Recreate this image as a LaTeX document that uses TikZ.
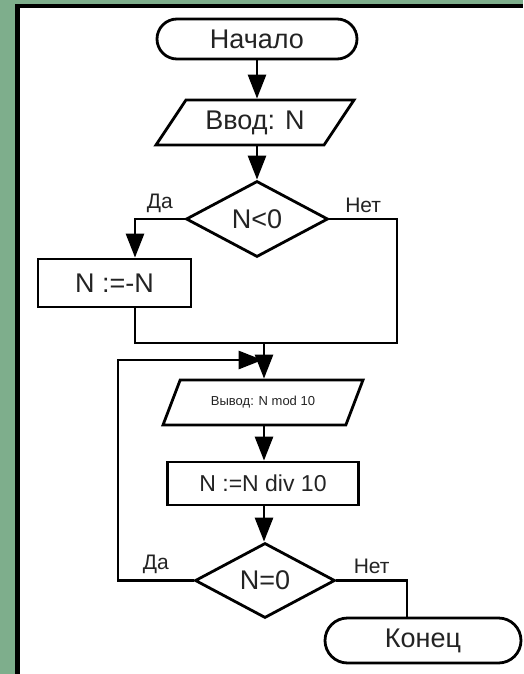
\documentclass[tikz,border=0pt]{standalone}
\usepackage{fontspec}
\setmainfont{Liberation Sans}
\usepackage{xcolor}
\usepackage{tikz}
\usetikzlibrary{shapes.geometric, arrows.meta, positioning, calc}
\definecolor{framegreen}{RGB}{126, 174, 140}
\definecolor{textgray}{RGB}{35, 35, 35}
\tikzset{
    base/.style = {draw=black, line width=2.8pt, fill=white, text=textgray, inner sep=2pt, font=\fontsize{27pt}{30pt}\selectfont},
    terminal/.style = {base, rectangle, rounded corners=20pt, minimum width=200pt, minimum height=40pt},
    box/.style = {base, rectangle, minimum width=153pt, minimum height=48pt},
    io/.style = {base, trapezium, trapezium left angle=43, trapezium right angle=137, trapezium stretches body, minimum width=198pt, minimum height=45pt},
    decision/.style = {base, diamond, minimum width=142pt, minimum height=76pt, inner sep=0pt},
    yesno/.style = {text=textgray, inner sep=2pt, font=\fontsize{21pt}{23pt}\selectfont},
    arrow/.style = {line width=2.8pt, -{Triangle[length=24pt, width=18pt]}},
    line/.style = {line width=2.8pt, -}
}

\begin{document}
\begin{tikzpicture}[x=1pt, y=-1pt]
% frame
\useasboundingbox (0,0) rectangle (523,674);
\fill [framegreen] (0,0) rectangle (523,674);
\fill [black] (15,4) rectangle (523,674);
\fill [white] (20,8) rectangle (523,674);

\node (start) [terminal] at (257,39) {Начало};
\node (input) [io] at (255,122.5) {Ввод: N};
\node (cond1) [decision] at (257,219) {N<0};
\node (neg) [box] at (114.5,283) {N :=-N};
\node (output) [io, minimum width=200pt, font=\fontsize{13pt}{15pt}\selectfont] at (263,402.5) {Вывод: N mod 10};
\node (div) [box, minimum width=191pt, minimum height=43pt, font=\fontsize{23pt}{26pt}\selectfont] at (263,483.5) {N :=N div 10};
\node (cond2) [decision, minimum width=140pt, minimum height=75pt] at (265,580.5) {N=0};
\node (stop) [terminal, minimum width=196pt, minimum height=45pt, rounded corners=22.5pt] at (423,640.5) {Конец};

\coordinate (merge) at (264,343);
\coordinate (nojoin) at (397,343);
\coordinate (loop) at (264,360);
\coordinate (back) at (118,360);

\draw [arrow] (start) -- (start |- input.north);
\draw [arrow] (start |- input.south) -- (cond1);
\draw [arrow] (cond1.west) -| node [yesno, pos=0.25, above=3pt] {Да} ([xshift=20.5pt]neg.north);
\draw [line] (cond1.east) -| node [yesno, pos=0.25, above=3pt] {Нет} (nojoin) -- (merge);
\draw [line] ([xshift=20.5pt]neg.south) |- (merge);
\draw [arrow] (merge) -- (merge |- output.north);
\draw [arrow] (merge |- output.south) -- (merge |- div.north);
\draw [arrow] (merge |- div.south) -- (merge |- cond2.north);
\draw [arrow] (cond2.west) -| node [yesno, pos=0.25, above=3pt] {Да} (back) -- ([xshift=-1.4pt]loop);
\draw [line] (cond2.east) -| node [yesno, pos=0.25, above=3pt] {Нет} ([xshift=-16pt]stop.north);
\end{tikzpicture}
\end{document}
